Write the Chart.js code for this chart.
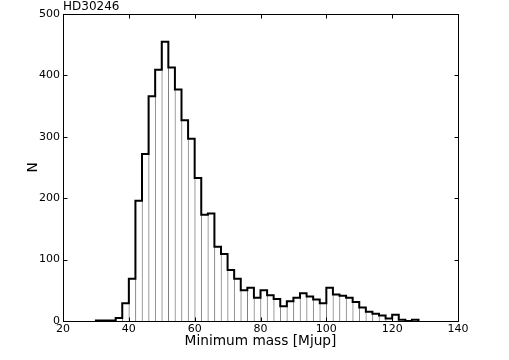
<!DOCTYPE html>
<html>
<head>
<meta charset="utf-8">
<script src="https://cdn.jsdelivr.net/npm/chart.js@4"></script>
<style>
  body { margin: 0; background: #fff; }
  canvas { display: block; }
</style>
</head>
<body>
<canvas id="grafica" width="509" height="360"></canvas>
<script>
// histograma de masas minimas, bins de 2 Mjup
const binLefts = [30, 32, 34, 36, 38, 40, 42, 44, 46, 48, 50, 52, 54, 56, 58, 60, 62, 64, 66, 68,
  70, 72, 74, 76, 78, 80, 82, 84, 86, 88, 90, 92, 94, 96, 98, 100, 102, 104, 106, 108,
  110, 112, 114, 116, 118, 120, 122, 124, 126];
const counts = [1, 1, 1, 5, 29, 69, 196, 272, 366, 409, 455, 413, 377, 327, 297, 233, 173, 175, 121, 109,
  83, 69, 50, 54, 38, 50, 42, 36, 24, 32, 38, 45, 40, 35, 29, 54, 43, 41, 38, 31,
  22, 15, 12, 9, 4, 10, 2, 0, 2];
const binWidth = 2;
const xTicks = [20, 40, 60, 80, 100, 120, 140];
const yTicks = [0, 100, 200, 300, 400, 500];

Chart.defaults.font.family = "'DejaVu Sans'";
Chart.defaults.color = "#000";

const barras = binLefts.map((l, i) => ({ x: l + binWidth / 2, y: counts[i] }));

// contorno escalonado
const contorno = [{ x: binLefts[0], y: 0 }];
binLefts.forEach((l, i) => contorno.push({ x: l, y: counts[i] }));
contorno.push({ x: binLefts[binLefts.length - 1] + binWidth, y: 0 });

// marco y ticks hacia adentro, estilo matplotlib
const marco = {
  id: "marco",
  afterDraw(chart) {
    const { ctx, chartArea: a, scales } = chart;
    ctx.save();
    ctx.strokeStyle = "#000";
    ctx.lineWidth = 1;
    const L = Math.round(a.left) + 0.5, R = Math.round(a.right) + 0.5;
    const T = Math.round(a.top) + 0.5, B = Math.round(a.bottom) + 0.5;
    ctx.strokeRect(L, T, R - L, B - T);
    ctx.beginPath();
    xTicks.forEach(v => {
      const px = Math.round(scales.x.getPixelForValue(v)) + 0.5;
      ctx.moveTo(px, B); ctx.lineTo(px, B - 4);
      ctx.moveTo(px, T); ctx.lineTo(px, T + 4);
    });
    yTicks.forEach(v => {
      const py = Math.round(scales.y.getPixelForValue(v)) + 0.5;
      ctx.moveTo(L, py); ctx.lineTo(L + 4, py);
      ctx.moveTo(R, py); ctx.lineTo(R - 4, py);
    });
    ctx.stroke();
    ctx.restore();
  }
};

new Chart(document.getElementById("grafica").getContext("2d"), {
  type: "bar",
  data: {
    datasets: [
      {
        type: "line",
        data: contorno,
        borderColor: "#000",
        borderWidth: 2,
        pointRadius: 0,
        stepped: true,
        fill: false,
        order: 0
      },
      {
        type: "bar",
        data: barras,
        backgroundColor: "#fff",
        borderColor: "#808080",
        borderWidth: { left: 1, right: 0, top: 0, bottom: 0 },
        borderSkipped: false,
        barPercentage: 1,
        categoryPercentage: 1,
        order: 1
      }
    ]
  },
  options: {
    responsive: false,
    animation: false,
    devicePixelRatio: 1,
    layout: { padding: { left: 0, right: 51, top: 0, bottom: 0 } },
    plugins: {
      legend: { display: false },
      tooltip: { enabled: false },
      title: {
        display: true,
        text: "HD30246",
        align: "start",
        fullSize: false,
        color: "#000",
        font: { size: 12, weight: "normal", lineHeight: 1.1667 },
        padding: { top: 0, bottom: 0 }
      }
    },
    scales: {
      x: {
        type: "linear",
        min: 20,
        max: 140,
        offset: false,
        afterFit: s => { s.height = 39; },
        afterBuildTicks: s => { s.ticks = xTicks.map(v => ({ value: v })); },
        ticks: { font: { size: 11 }, padding: 2, maxRotation: 0, autoSkip: false },
        grid: { display: false, drawTicks: false, offset: false },
        border: { display: false },
        title: {
          display: true,
          text: "Minimum mass [Mjup]",
          font: { size: 13.7 },
          padding: { top: 0, bottom: 10 }
        }
      },
      y: {
        min: 0,
        max: 500,
        afterFit: s => { s.width = 63; },
        afterBuildTicks: s => { s.ticks = yTicks.map(v => ({ value: v })); },
        ticks: { font: { size: 11 }, padding: 3 },
        grid: { display: false, drawTicks: false },
        border: { display: false },
        title: {
          display: true,
          text: "N",
          font: { size: 13.7 },
          padding: { top: 25, bottom: 0 }
        }
      }
    }
  },
  plugins: [marco]
});
</script>
</body>
</html>
